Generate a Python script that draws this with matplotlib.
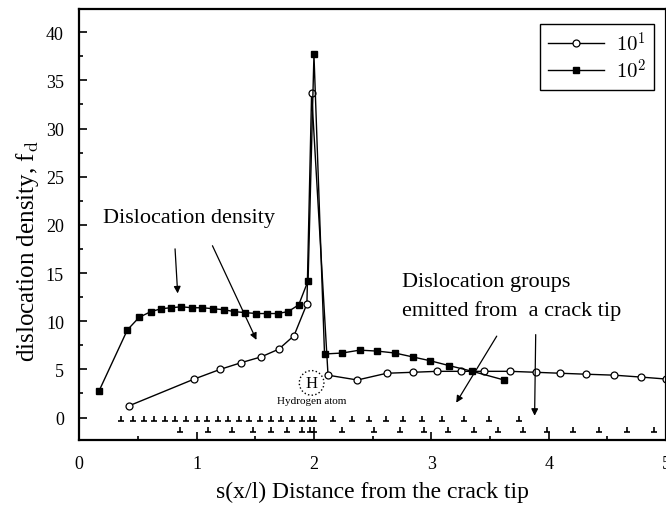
import matplotlib
matplotlib.use("Agg")
import matplotlib.pyplot as plt
import numpy as np
from matplotlib.path import Path
from matplotlib.patches import Ellipse

plt.rcParams['font.family'] = ['Liberation Serif', 'DejaVu Serif']
plt.rcParams['mathtext.fontset'] = 'cm'

# --- data ---
x_10_1 = [0.42, 0.98, 1.20, 1.38, 1.55, 1.70, 1.83, 1.94, 1.98, 2.12, 2.37, 2.62,
          2.84, 3.05, 3.25, 3.45, 3.67, 3.89, 4.10, 4.32, 4.56, 4.79, 5.00]
y_10_1 = [1.2, 4.0, 5.0, 5.7, 6.3, 7.1, 8.5, 11.8, 33.7, 4.4, 3.9, 4.6,
          4.7, 4.8, 4.8, 4.8, 4.8, 4.7, 4.6, 4.5, 4.4, 4.2, 4.0]

x_10_2 = [0.17, 0.41, 0.51, 0.61, 0.70, 0.78, 0.87, 0.96, 1.05, 1.14, 1.23, 1.32,
          1.41, 1.51, 1.60, 1.69, 1.78, 1.87, 1.95, 2.00, 2.09, 2.24, 2.39, 2.54,
          2.69, 2.84, 2.99, 3.15, 3.35, 3.62]
y_10_2 = [2.8, 9.1, 10.4, 11.0, 11.3, 11.4, 11.5, 11.4, 11.4, 11.3, 11.2, 11.0,
          10.9, 10.8, 10.8, 10.8, 11.0, 11.7, 14.2, 37.7, 6.6, 6.7, 7.0, 6.9,
          6.7, 6.3, 5.9, 5.4, 4.8, 3.9]

# dislocation positions (upper and lower row)
disl_row1 = [0.36, 0.46, 0.55, 0.64, 0.73, 0.82, 0.91, 1.00, 1.09, 1.18, 1.27, 1.36,
             1.45, 1.54, 1.63, 1.72, 1.81, 1.90, 1.97, 2.00, 2.16, 2.32, 2.47, 2.61,
             2.76, 2.92, 3.09, 3.28, 3.49, 3.75]
disl_row2 = [0.86, 1.10, 1.30, 1.48, 1.63, 1.77, 1.90, 1.97, 2.00, 2.24, 2.51, 2.73,
             2.94, 3.14, 3.36, 3.57, 3.78, 3.99, 4.21, 4.43, 4.67, 4.90]

fig = plt.figure(figsize=(6.66, 5.06), dpi=100)
ax = fig.add_axes([0.119, 0.129, 0.881, 0.851])

ax.plot(x_10_1, y_10_1, '-o', color='black', lw=1, mfc='white', mec='black',
        ms=5, mew=0.9, label='$10^1$')
ax.plot(x_10_2, y_10_2, '-s', color='black', lw=1, mfc='black', ms=4.5,
        label='$10^2$')

# upside-down T marker for dislocations
perp = Path([(-1, 0), (1, 0), (0, 0), (0, 1.6)],
            [Path.MOVETO, Path.LINETO, Path.MOVETO, Path.LINETO])
ax.plot(disl_row1, [-0.35] * len(disl_row1), ls='none', marker=perp, ms=7,
        mfc='none', mec='black', mew=1.2)
ax.plot(disl_row2, [-1.5] * len(disl_row2), ls='none', marker=perp, ms=7,
        mfc='none', mec='black', mew=1.2)

# hydrogen atom
ax.add_patch(Ellipse((1.98, 3.6), 0.21, 2.55, fill=False, ls=':', lw=1,
                     ec='black'))
ax.text(1.98, 3.6, 'H', ha='center', va='center', fontsize=12)
ax.text(1.98, 1.75, 'Hydrogen atom', ha='center', va='center', fontsize=8)

# annotations
arr = dict(arrowstyle='-|>', color='black', lw=0.9, mutation_scale=10)
ax.text(0.20, 20.8, 'Dislocation density', fontsize=16, va='center')
ax.annotate('', xy=(0.84, 12.6), xytext=(0.815, 17.8), arrowprops=arr)
ax.annotate('', xy=(1.52, 7.8), xytext=(1.125, 18.1), arrowprops=arr)

ax.text(2.75, 14.1, 'Dislocation groups', fontsize=16, va='center')
ax.text(2.75, 11.2, 'emitted from  a crack tip', fontsize=16, va='center')
ax.annotate('', xy=(3.2, 1.3), xytext=(3.57, 8.7), arrowprops=arr)
ax.annotate('', xy=(3.88, -0.1), xytext=(3.89, 8.9), arrowprops=arr)

ax.set_xlim(0, 5)
ax.set_ylim(-2.3, 42.4)
ax.set_xticks(np.arange(0, 6, 1))
ax.set_xticks(np.arange(0.5, 5, 1), minor=True)
ax.set_yticks(np.arange(0, 45, 5))
ax.set_yticks(np.arange(2.5, 42, 5), minor=True)
ax.tick_params(which='both', direction='in', top=False, right=False,
               labelsize=13, width=1.2)
ax.tick_params(which='major', length=6)
ax.tick_params(which='minor', length=3)
ax.tick_params(axis='x', which='major', pad=11)
ax.tick_params(axis='y', which='major', pad=11)
for sp in ax.spines.values():
    sp.set_linewidth(1.6)

ax.set_xlabel('s(x/l) Distance from the crack tip', fontsize=17, labelpad=6)
ax.set_ylabel('dislocation density, f$_\\mathrm{d}$', fontsize=18)
ax.yaxis.set_label_coords(-0.066, 0.44)

leg = ax.legend(loc='upper right', fontsize=15, fancybox=False,
                edgecolor='black', framealpha=1, borderaxespad=0,
                bbox_to_anchor=(654 / 666, 1 - 25 / 506),
                bbox_transform=fig.transFigure, handlelength=2.7,
                labelspacing=0.15, borderpad=0.35, handletextpad=0.6)
leg.get_frame().set_linewidth(1)

fig.savefig('out.png', dpi=100)
